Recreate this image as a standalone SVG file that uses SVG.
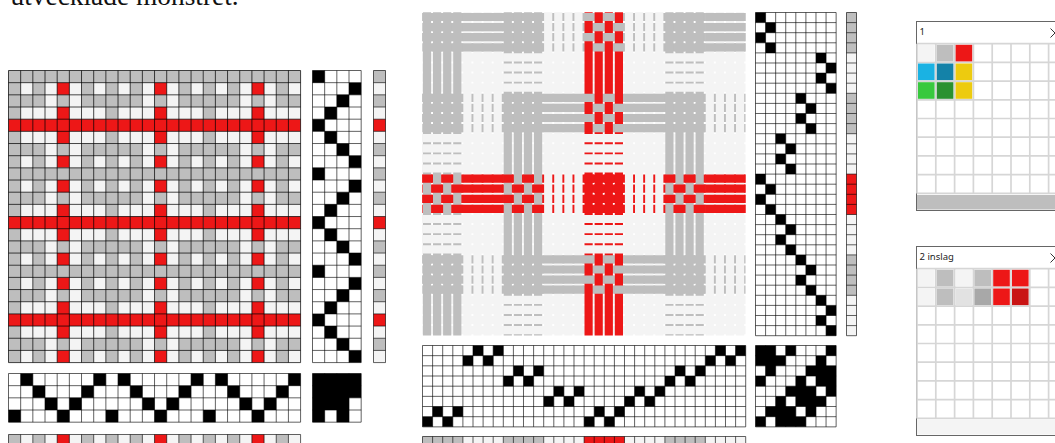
<svg xmlns="http://www.w3.org/2000/svg" xmlns:xlink="http://www.w3.org/1999/xlink" width="1055" height="443" viewBox="0 0 1055 443">
<style>
.g{fill:#bebebe}.w{fill:#f4f4f4}.r{fill:#ed1717}.k{fill:#000}
.l{fill:none;stroke:#000;stroke-opacity:.62;stroke-width:1;vector-effect:non-scaling-stroke}
.d{stroke-opacity:.72}
#g24,#gv24,#gh24,#sv24,#sh24,#gh32,#gv32,#g8,#sv32,#sh32{vector-effect:non-scaling-stroke}
.t{font-family:"Noto Sans","Open Sans",sans-serif;font-size:9.5px;fill:#222}
.p{fill:#fff;stroke:#666;stroke-width:1}
.pg{fill:none;stroke:#d6d6d6;stroke-width:1.7}
</style>
<defs>
<path id="g24" d="M0 0V24M1 0V24M2 0V24M3 0V24M4 0V24M5 0V24M6 0V24M7 0V24M8 0V24M9 0V24M10 0V24M11 0V24M12 0V24M13 0V24M14 0V24M15 0V24M16 0V24M17 0V24M18 0V24M19 0V24M20 0V24M21 0V24M22 0V24M23 0V24M24 0V24M0 0H24M0 1H24M0 2H24M0 3H24M0 4H24M0 5H24M0 6H24M0 7H24M0 8H24M0 9H24M0 10H24M0 11H24M0 12H24M0 13H24M0 14H24M0 15H24M0 16H24M0 17H24M0 18H24M0 19H24M0 20H24M0 21H24M0 22H24M0 23H24M0 24H24"/>
<path id="gv24" d="M0 0V24M1 0V24M2 0V24M3 0V24M4 0V24M0 0H4M0 1H4M0 2H4M0 3H4M0 4H4M0 5H4M0 6H4M0 7H4M0 8H4M0 9H4M0 10H4M0 11H4M0 12H4M0 13H4M0 14H4M0 15H4M0 16H4M0 17H4M0 18H4M0 19H4M0 20H4M0 21H4M0 22H4M0 23H4M0 24H4"/>
<path id="gh24" d="M0 0H24M0 1H24M0 2H24M0 3H24M0 4H24M0 0V4M1 0V4M2 0V4M3 0V4M4 0V4M5 0V4M6 0V4M7 0V4M8 0V4M9 0V4M10 0V4M11 0V4M12 0V4M13 0V4M14 0V4M15 0V4M16 0V4M17 0V4M18 0V4M19 0V4M20 0V4M21 0V4M22 0V4M23 0V4M24 0V4"/>
<path id="sv24" d="M0 0V24M1 0V24M0 0H1M0 1H1M0 2H1M0 3H1M0 4H1M0 5H1M0 6H1M0 7H1M0 8H1M0 9H1M0 10H1M0 11H1M0 12H1M0 13H1M0 14H1M0 15H1M0 16H1M0 17H1M0 18H1M0 19H1M0 20H1M0 21H1M0 22H1M0 23H1M0 24H1"/>
<path id="sh24" d="M0 0H24M0 1H24M0 0V1M1 0V1M2 0V1M3 0V1M4 0V1M5 0V1M6 0V1M7 0V1M8 0V1M9 0V1M10 0V1M11 0V1M12 0V1M13 0V1M14 0V1M15 0V1M16 0V1M17 0V1M18 0V1M19 0V1M20 0V1M21 0V1M22 0V1M23 0V1M24 0V1"/>
<path id="gh32" d="M0 0H32M0 1H32M0 2H32M0 3H32M0 4H32M0 5H32M0 6H32M0 7H32M0 8H32M0 0V8M1 0V8M2 0V8M3 0V8M4 0V8M5 0V8M6 0V8M7 0V8M8 0V8M9 0V8M10 0V8M11 0V8M12 0V8M13 0V8M14 0V8M15 0V8M16 0V8M17 0V8M18 0V8M19 0V8M20 0V8M21 0V8M22 0V8M23 0V8M24 0V8M25 0V8M26 0V8M27 0V8M28 0V8M29 0V8M30 0V8M31 0V8M32 0V8"/>
<path id="gv32" d="M0 0V32M1 0V32M2 0V32M3 0V32M4 0V32M5 0V32M6 0V32M7 0V32M8 0V32M0 0H8M0 1H8M0 2H8M0 3H8M0 4H8M0 5H8M0 6H8M0 7H8M0 8H8M0 9H8M0 10H8M0 11H8M0 12H8M0 13H8M0 14H8M0 15H8M0 16H8M0 17H8M0 18H8M0 19H8M0 20H8M0 21H8M0 22H8M0 23H8M0 24H8M0 25H8M0 26H8M0 27H8M0 28H8M0 29H8M0 30H8M0 31H8M0 32H8"/>
<path id="g8" d="M0 0V8M1 0V8M2 0V8M3 0V8M4 0V8M5 0V8M6 0V8M7 0V8M8 0V8M0 0H8M0 1H8M0 2H8M0 3H8M0 4H8M0 5H8M0 6H8M0 7H8M0 8H8"/>
<path id="sv32" d="M0 0V32M1 0V32M0 0H1M0 1H1M0 2H1M0 3H1M0 4H1M0 5H1M0 6H1M0 7H1M0 8H1M0 9H1M0 10H1M0 11H1M0 12H1M0 13H1M0 14H1M0 15H1M0 16H1M0 17H1M0 18H1M0 19H1M0 20H1M0 21H1M0 22H1M0 23H1M0 24H1M0 25H1M0 26H1M0 27H1M0 28H1M0 29H1M0 30H1M0 31H1M0 32H1"/>
<path id="sh32" d="M0 0H32M0 1H32M0 0V1M1 0V1M2 0V1M3 0V1M4 0V1M5 0V1M6 0V1M7 0V1M8 0V1M9 0V1M10 0V1M11 0V1M12 0V1M13 0V1M14 0V1M15 0V1M16 0V1M17 0V1M18 0V1M19 0V1M20 0V1M21 0V1M22 0V1M23 0V1M24 0V1M25 0V1M26 0V1M27 0V1M28 0V1M29 0V1M30 0V1M31 0V1M32 0V1"/>
<g id="tile">
<path class="g" d="M0 0h8v1h-8zM0 1h1v1h-1zM2 1h1v1h-1zM6 1h1v1h-1zM0 2h3v1h-3zM4 2h1v1h-1zM6 2h2v1h-2zM0 3h1v1h-1zM0 5h1v1h-1zM0 6h3v1h-3zM4 6h1v1h-1zM6 6h2v1h-2zM0 7h1v1h-1zM2 7h1v1h-1zM6 7h1v1h-1z"/>
<path class="r" d="M0 4h8v1h-8zM4 1h1v1h-1zM4 3h1v1h-1zM4 5h1v1h-1zM4 7h1v1h-1z"/>
</g>
<path id="tr8" d="M0 0h1v1h-1zM3 1h1v1h-1zM2 2h1v1h-1zM1 3h1v1h-1zM0 4h1v1h-1zM1 5h1v1h-1zM2 6h1v1h-1zM3 7h1v1h-1z"/>
<path id="th8" d="M1 0h1v1h-1zM7 0h1v1h-1zM2 1h1v1h-1zM6 1h1v1h-1zM3 2h1v1h-1zM5 2h1v1h-1zM0 3h1v1h-1zM4 3h1v1h-1z"/>
<path id="b4" d="M0 .06h32v.81H0zM0 1.06h32v.81H0zM0 2.06h32v.81H0zM0 3.06h32v.81H0z"/>
<path id="v4" d="M.06 0v32h.81V0zM1.06 0v32h.81V0zM2.06 0v32h.81V0zM3.06 0v32h.81V0z"/>
<path id="a" d="M0 .06h4v.81H0zM0 1.06h4v.81H0zM0 2.06h4v.81H0zM0 3.06h4v.81H0z"/>
<path id="c" d="M0 .06h1v.81H0zM2 .06h1v.81H2zM1 1.06h1v.81H1zM3 1.06h1v.81H3zM0 2.06h1v.81H0zM2 2.06h1v.81H2zM1 3.06h1v.81H1zM3 3.06h1v.81H3z"/>
<path id="pgrid" class="pg" d="M917 43.7V193.5M935.8 43.7V193.5M954.6 43.7V193.5M973.4 43.7V193.5M992.2 43.7V193.5M1011 43.7V193.5M1029.8 43.7V193.5M1048.6 43.7V193.5M917 43.7H1055M917 62.4H1055M917 81.1H1055M917 99.8H1055M917 118.5H1055M917 137.2H1055M917 155.9H1055M917 174.6H1055M917 193.3H1055"/>
</defs>
<rect width="1055" height="443" fill="#fff"/>
<text id="caption" x="10.500" y="5" font-family="'Liberation Serif',serif" font-size="27.400" fill="#111">utvecklade mönstret.</text>

<g id="draft-left">
<g id="left-drawdown" transform="translate(8.5 70.5) scale(12.17)">
<rect class="w" width="24" height="24"/>
<use xlink:href="#tile"/><use xlink:href="#tile" x="8"/><use xlink:href="#tile" x="16"/>
<use xlink:href="#tile" y="8"/><use xlink:href="#tile" x="8" y="8"/><use xlink:href="#tile" x="16" y="8"/>
<use xlink:href="#tile" y="16"/><use xlink:href="#tile" x="8" y="16"/><use xlink:href="#tile" x="16" y="16"/>
<use xlink:href="#g24" class="l d"/>
</g>
<g id="left-treadling" transform="translate(312.5 70.5) scale(12.17)">
<rect fill="#fff" width="4" height="24"/>
<use xlink:href="#tr8" class="k"/><use xlink:href="#tr8" class="k" y="8"/><use xlink:href="#tr8" class="k" y="16"/>
<use xlink:href="#gv24" class="l"/>
</g>
<g id="left-weft-colours" transform="translate(373.5 70.5) scale(12 12.17)">
<rect class="w" width="1" height="24"/>
<path class="g" d="M0 0h1v1h-1zM0 2h1v1h-1zM0 6h1v1h-1zM0 8h1v1h-1zM0 10h1v1h-1zM0 14h1v1h-1zM0 16h1v1h-1zM0 18h1v1h-1zM0 22h1v1h-1z"/>
<path class="r" d="M0 4h1v1h-1zM0 12h1v1h-1zM0 20h1v1h-1z"/>
<use xlink:href="#sv24" class="l"/>
</g>
<g id="left-threading" transform="translate(8.5 373.5) scale(12.17)">
<rect fill="#fff" width="24" height="4"/>
<use xlink:href="#th8" class="k"/><use xlink:href="#th8" class="k" x="8"/><use xlink:href="#th8" class="k" x="16"/>
<use xlink:href="#gh24" class="l"/>
</g>
<g id="left-tieup" transform="translate(312.5 373.5) scale(12.17)">
<rect fill="#fff" width="4" height="4"/>
<path class="k" d="M0 0h4v1h-4zM0 1h4v1h-4zM0 2h3v1h-3zM0 3h1v1h-1zM2 3h1v1h-1z"/>
<path class="l" d="M0 0V4M1 0V4M2 0V4M3 0V4M4 0V4M0 0H4M0 1H4M0 2H4M0 3H4M0 4H4"/>
</g>
<g id="left-warp-colours" transform="translate(8.5 434.5) scale(12.17)">
<rect class="w" width="24" height="1"/>
<path class="g" d="M0 0h1v1h-1zM2 0h1v1h-1zM6 0h1v1h-1zM8 0h1v1h-1zM10 0h1v1h-1zM14 0h1v1h-1zM16 0h1v1h-1zM18 0h1v1h-1zM22 0h1v1h-1z"/>
<path class="r" d="M4 0h1v1h-1zM12 0h1v1h-1zM20 0h1v1h-1z"/>
<use xlink:href="#sh24" class="l"/>
</g>
</g>

<g id="draft-middle">
<g id="cloth" transform="translate(422.3 12.3) scale(10.1)">
<rect fill="#fff" width="32" height="32"/>
<g id="wefts">
<use xlink:href="#b4" class="g"/><use xlink:href="#b4" class="w" y="4"/><use xlink:href="#b4" class="g" y="8"/><use xlink:href="#b4" class="w" y="12"/><use xlink:href="#b4" class="r" y="16"/><use xlink:href="#b4" class="w" y="20"/><use xlink:href="#b4" class="g" y="24"/><use xlink:href="#b4" class="w" y="28"/>
</g>
<g id="warps">
<use xlink:href="#v4" class="g"/><use xlink:href="#v4" class="w" x="4"/><use xlink:href="#v4" class="g" x="8"/><use xlink:href="#v4" class="w" x="12"/><use xlink:href="#v4" class="r" x="16"/><use xlink:href="#v4" class="w" x="20"/><use xlink:href="#v4" class="g" x="24"/><use xlink:href="#v4" class="w" x="28"/>
</g>
<g id="weft-over">
<g class="g">
<use xlink:href="#c"/><use xlink:href="#a" x="4"/><use xlink:href="#c" x="8"/><use xlink:href="#c" x="16"/><use xlink:href="#c" x="24"/><use xlink:href="#a" x="28"/>
<use xlink:href="#c" y="8"/><use xlink:href="#c" x="8" y="8"/><use xlink:href="#a" x="12" y="8"/><use xlink:href="#c" x="16" y="8"/><use xlink:href="#a" x="20" y="8"/><use xlink:href="#c" x="24" y="8"/>
<use xlink:href="#c" y="24"/><use xlink:href="#c" x="8" y="24"/><use xlink:href="#a" x="12" y="24"/><use xlink:href="#c" x="16" y="24"/><use xlink:href="#a" x="20" y="24"/><use xlink:href="#c" x="24" y="24"/>
</g>
<g class="r">
<use xlink:href="#c" y="16"/><use xlink:href="#a" x="4" y="16"/><use xlink:href="#c" x="8" y="16"/><use xlink:href="#c" x="16" y="16"/><use xlink:href="#c" x="24" y="16"/><use xlink:href="#a" x="28" y="16"/>
</g>
<g class="w">
<use xlink:href="#a" x="8" y="4"/><use xlink:href="#a" x="24" y="4"/>
<use xlink:href="#a" y="12"/><use xlink:href="#a" x="16" y="12"/>
<use xlink:href="#a" y="20"/><use xlink:href="#a" x="16" y="20"/>
<use xlink:href="#a" x="8" y="28"/><use xlink:href="#a" x="24" y="28"/>
</g>
</g>
</g>
<g id="mid-treadling" transform="translate(755.5 12.5) scale(10.08 10.1)">
<rect fill="#fff" width="8" height="32"/>
<path class="k" d="M0 0h1v1h-1zM1 1h1v1h-1zM0 2h1v1h-1zM1 3h1v1h-1zM6 4h1v1h-1zM7 5h1v1h-1zM6 6h1v1h-1zM7 7h1v1h-1zM4 8h1v1h-1zM5 9h1v1h-1zM4 10h1v1h-1zM5 11h1v1h-1zM2 12h1v1h-1zM3 13h1v1h-1zM2 14h1v1h-1zM3 15h1v1h-1zM0 16h1v1h-1zM1 17h1v1h-1zM0 18h1v1h-1zM1 19h1v1h-1zM2 20h1v1h-1zM3 21h1v1h-1zM2 22h1v1h-1zM3 23h1v1h-1zM4 24h1v1h-1zM5 25h1v1h-1zM4 26h1v1h-1zM5 27h1v1h-1zM6 28h1v1h-1zM7 29h1v1h-1zM6 30h1v1h-1zM7 31h1v1h-1z"/>
<use xlink:href="#gv32" class="l"/>
</g>
<g id="mid-weft-colours" transform="translate(846.5 12.5) scale(10 10.1)">
<rect class="w" width="1" height="32"/>
<path class="g" d="M0 0h1v4h-1zM0 8h1v4h-1zM0 24h1v4h-1z"/>
<path class="r" d="M0 16h1v4h-1z"/>
<use xlink:href="#sv32" class="l"/>
</g>
<g id="mid-threading" transform="translate(422.5 345.5) scale(10.1 10.17)">
<rect fill="#fff" width="32" height="8"/>
<path class="k" d="M5 0h1v1h-1zM7 0h1v1h-1zM29 0h1v1h-1zM31 0h1v1h-1zM4 1h1v1h-1zM6 1h1v1h-1zM28 1h1v1h-1zM30 1h1v1h-1zM9 2h1v1h-1zM11 2h1v1h-1zM25 2h1v1h-1zM27 2h1v1h-1zM8 3h1v1h-1zM10 3h1v1h-1zM24 3h1v1h-1zM26 3h1v1h-1zM13 4h1v1h-1zM15 4h1v1h-1zM21 4h1v1h-1zM23 4h1v1h-1zM12 5h1v1h-1zM14 5h1v1h-1zM20 5h1v1h-1zM22 5h1v1h-1zM1 6h1v1h-1zM3 6h1v1h-1zM17 6h1v1h-1zM19 6h1v1h-1zM0 7h1v1h-1zM2 7h1v1h-1zM16 7h1v1h-1zM18 7h1v1h-1z"/>
<use xlink:href="#gh32" class="l"/>
</g>
<g id="mid-tieup" transform="translate(755.5 345.5) scale(10.08 10.17)">
<rect fill="#fff" width="8" height="8"/>
<path class="k" d="M0 0h2v1h-2zM3 0h1v1h-1zM7 0h1v1h-1zM0 1h3v1h-3zM6 1h1v1h-1zM1 2h1v1h-1zM5 2h3v1h-3zM0 3h1v1h-1zM4 3h1v1h-1zM6 3h2v1h-2zM3 4h3v1h-3zM7 4h1v1h-1zM2 5h1v1h-1zM4 5h3v1h-3zM1 6h3v1h-3zM5 6h1v1h-1zM0 7h1v1h-1zM2 7h3v1h-3z"/>
<use xlink:href="#g8" class="l"/>
</g>
<g id="mid-warp-colours" transform="translate(422.5 436.5) scale(10.1)">
<rect class="w" width="32" height="1"/>
<path class="g" d="M0 0h4v1h-4zM8 0h4v1h-4zM24 0h4v1h-4z"/>
<path class="r" d="M16 0h4v1h-4z"/>
<use xlink:href="#sh32" class="l"/>
</g>
</g>

<g id="palette-1">
<rect class="p" x="916.500" y="21.500" width="145" height="189"/>
<text class="t" x="919.500" y="35">1</text>
<path d="M1050.500 28.500l9 9m-9 0l9-9" fill="none" stroke="#333" stroke-width="1"/>
<use xlink:href="#pgrid"/>
<rect x="918" y="44.800" width="16.600" height="16.600" fill="#f4f4f4"/>
<rect x="936.800" y="44.800" width="16.600" height="16.600" fill="#bebebe"/>
<rect x="955.600" y="44.800" width="16.600" height="16.600" fill="#ed1717"/>
<rect x="918" y="63.500" width="16.600" height="16.600" fill="#1ab2e3"/>
<rect x="936.800" y="63.500" width="16.600" height="16.600" fill="#1482a8"/>
<rect x="955.600" y="63.500" width="16.600" height="16.600" fill="#edcb0f"/>
<rect x="918" y="82.200" width="16.600" height="16.600" fill="#38c93e"/>
<rect x="936.800" y="82.200" width="16.600" height="16.600" fill="#2a9130"/>
<rect x="955.600" y="82.200" width="16.600" height="16.600" fill="#edcb0f"/>
<rect x="917" y="195" width="138" height="14.500" fill="#bebebe"/>
</g>
<g id="palette-2">
<rect class="p" x="916.500" y="246.500" width="145" height="189"/>
<text class="t" x="919.500" y="260">2 inslag</text>
<path d="M1050.500 253.500l9 9m-9 0l9-9" fill="none" stroke="#333" stroke-width="1"/>
<use xlink:href="#pgrid" y="225"/>
<rect x="918" y="269.800" width="16.600" height="16.600" fill="#f4f4f4"/>
<rect x="936.800" y="269.800" width="16.600" height="16.600" fill="#bebebe"/>
<rect x="955.600" y="269.800" width="16.600" height="16.600" fill="#f4f4f4"/>
<rect x="974.400" y="269.800" width="16.600" height="16.600" fill="#bebebe"/>
<rect x="993.200" y="269.800" width="16.600" height="16.600" fill="#ed1717"/>
<rect x="1012" y="269.800" width="16.600" height="16.600" fill="#ed1717"/>
<rect x="918" y="288.500" width="16.600" height="16.600" fill="#f4f4f4"/>
<rect x="936.800" y="288.500" width="16.600" height="16.600" fill="#bebebe"/>
<rect x="955.600" y="288.500" width="16.600" height="16.600" fill="#e2e2e2"/>
<rect x="974.400" y="288.500" width="16.600" height="16.600" fill="#a8a8a8"/>
<rect x="993.200" y="288.500" width="16.600" height="16.600" fill="#ed1717"/>
<rect x="1012" y="288.500" width="16.600" height="16.600" fill="#c91414"/>
<rect x="917" y="420" width="138" height="14.500" fill="#f4f4f4"/>
</g>
</svg>
